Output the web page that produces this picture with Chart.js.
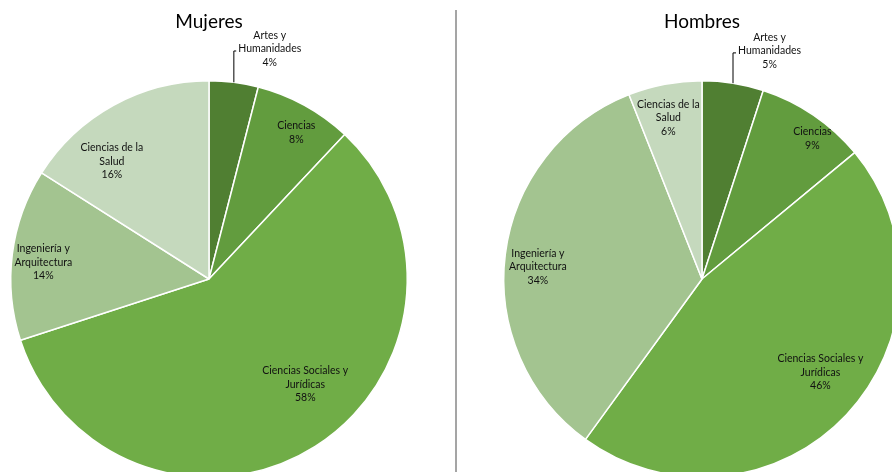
<!DOCTYPE html>
<html>
<head>
<meta charset="utf-8">
<script src="https://cdn.jsdelivr.net/npm/chart.js@4.4.1/dist/chart.umd.min.js"></script>
<style>
  html, body { margin: 0; padding: 0; background: #fff; overflow: hidden; width: 892px; height: 472px; }
  #wrap { position: relative; width: 892px; height: 472px; overflow: hidden; }
  canvas { position: absolute; top: 0; }
  #c1 { left: 0; }
  #c2 { left: 460px; }
  #sep { position: absolute; left: 455px; top: 10px; width: 2px; height: 470px; background: #a5a5a5; }
</style>
</head>
<body>
<div id="wrap">
  <canvas id="c1" width="420" height="500"></canvas>
  <div id="sep"></div>
  <canvas id="c2" width="460" height="500"></canvas>
</div>
<script>
// categories (multi-line labels as in the original)
var categories = [
    ['Artes y', 'Humanidades'],
    ['Ciencias'],
    ['Ciencias Sociales y', 'Jurídicas'],
    ['Ingeniería y', 'Arquitectura'],
    ['Ciencias de la', 'Salud']
];
var mujeres = [4, 8, 58, 14, 16];
var hombres = [5, 9, 46, 34, 6];
var sliceColors = ['#507f32', '#629c3e', '#70ad47', '#a3c490', '#c5d9bd'];

// label placement per slice: [radius fraction, angle shift in degrees, outside]
var labelPlaceMujeres = [[1.2, 7.6, true], [0.86, 2, false], [0.72, -10, false], [0.84, -1.4, false], [0.77, -10.7, false]];
var labelPlaceHombres = [[1.2, 7.5, true], [0.9, 4, false], [0.76, -5, false], [0.83, -3, false], [0.83, -1, false]];

var FONT = 'Lato, "Liberation Sans", sans-serif';

var pieLabels = {
    id: 'pieLabels',
    afterDatasetsDraw: function(chart, args, opts) {
        var ctx = chart.ctx;
        var meta = chart.getDatasetMeta(0);
        var data = chart.data.datasets[0].data;
        var total = 0;
        data.forEach(function(v) { total += v; });
        ctx.save();
        ctx.font = '10.5px ' + FONT;
        ctx.fillStyle = '#111';
        ctx.textAlign = 'center';
        ctx.textBaseline = 'middle';
        var lh = 13.5;
        meta.data.forEach(function(arc, i) {
            var place = opts.place[i];
            var mid = (arc.startAngle + arc.endAngle) / 2;
            var a = mid + place[1] * Math.PI / 180;
            var r = arc.outerRadius * place[0];
            var x = arc.x + Math.cos(a) * r;
            var y = arc.y + Math.sin(a) * r;
            var lines = chart.data.labels[i].slice();
            lines.push(Math.round(data[i] / total * 100) + '%');
            var top = y - (lines.length - 1) * lh / 2;
            if (place[2]) {
                // middle line sits at y; leader from arc edge up then across
                top = y - lh;
                var sx = arc.x + Math.cos(mid) * arc.outerRadius;
                var sy = arc.y + Math.sin(mid) * arc.outerRadius;
                var w = ctx.measureText(lines[1]).width;
                var ex = x - w / 2 - 2;
                ctx.strokeStyle = '#000';
                ctx.lineWidth = 1;
                ctx.beginPath();
                ctx.moveTo(sx, sy);
                ctx.lineTo(sx, y + 2);
                ctx.lineTo(ex, y + 2);
                ctx.stroke();
            }
            lines.forEach(function(t, k) {
                ctx.fillText(t, x, top + k * lh);
            });
        });
        // chart title centred over the pie
        var ca = chart.chartArea;
        ctx.font = '19px ' + FONT;
        ctx.fillStyle = '#000';
        ctx.fillText(opts.title, (ca.left + ca.right) / 2, 22);
        ctx.restore();
    }
};

function makePie(id, title, values, place, pad) {
    var ctx = document.getElementById(id).getContext('2d');
    return new Chart(ctx, {
        type: 'pie',
        data: {
            labels: categories,
            datasets: [{
                data: values,
                backgroundColor: sliceColors,
                borderColor: '#ffffff',
                borderWidth: 1.5
            }]
        },
        options: {
            responsive: false,
            animation: false,
            devicePixelRatio: 1,
            layout: { padding: pad },
            plugins: {
                legend: { display: false },
                tooltip: { enabled: false },
                pieLabels: { title: title, place: place }
            }
        },
        plugins: [pieLabels]
    });
}

makePie('c1', 'Mujeres', mujeres, labelPlaceMujeres, { left: 10, right: 12, top: 80, bottom: 22 });
makePie('c2', 'Hombres', hombres, labelPlaceHombres, { left: 43, right: 19, top: 80, bottom: 22 });
</script>
</body>
</html>
